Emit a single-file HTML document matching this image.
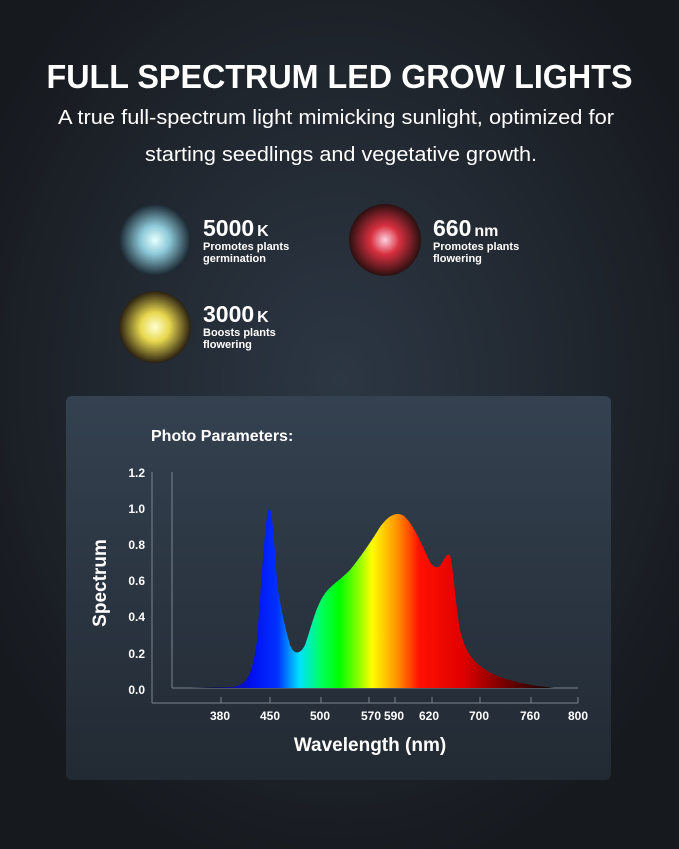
<!DOCTYPE html>
<html><head><meta charset="utf-8"><style>
html,body{margin:0;padding:0;background:#1b1f25;}
svg{display:block;font-family:"Liberation Sans",sans-serif;}
</style></head><body>
<svg width="679" height="849" viewBox="0 0 679 849" xmlns="http://www.w3.org/2000/svg">
<defs>
<radialGradient id="bg" cx="0.5" cy="0.45" r="0.6">
<stop offset="0" stop-color="#2c3744"/><stop offset="0.6" stop-color="#20262e"/><stop offset="1" stop-color="#16191e"/>
</radialGradient>
<linearGradient id="panel" x1="0" y1="0" x2="0" y2="1">
<stop offset="0" stop-color="#344150"/><stop offset="1" stop-color="#222a33"/>
</linearGradient>
<linearGradient id="spec" gradientUnits="userSpaceOnUse" x1="190" y1="0" x2="554" y2="0">
<stop offset="0" stop-color="#000010"/>
<stop offset="0.12" stop-color="#1010a0"/>
<stop offset="0.17" stop-color="#0010f0"/>
<stop offset="0.24" stop-color="#0030ff"/>
<stop offset="0.3" stop-color="#00e0ff"/>
<stop offset="0.36" stop-color="#00ff60"/>
<stop offset="0.41" stop-color="#00ff00"/>
<stop offset="0.47" stop-color="#a0ff00"/>
<stop offset="0.5" stop-color="#ffff00"/>
<stop offset="0.57" stop-color="#ff9000"/>
<stop offset="0.63" stop-color="#ff1000"/>
<stop offset="0.75" stop-color="#e00000"/>
<stop offset="0.87" stop-color="#700000"/>
<stop offset="1" stop-color="#100000"/>
</linearGradient>
<radialGradient id="c1"><stop offset="0" stop-color="#e8ffff"/><stop offset="0.4" stop-color="#8cc8d8"/><stop offset="1" stop-color="#1a2630"/></radialGradient>
<radialGradient id="c2"><stop offset="0" stop-color="#ffd0e0"/><stop offset="0.4" stop-color="#d83040"/><stop offset="1" stop-color="#2a1010"/></radialGradient>
<radialGradient id="c3"><stop offset="0" stop-color="#ffffd0"/><stop offset="0.4" stop-color="#e8d850"/><stop offset="1" stop-color="#2a2010"/></radialGradient>
</defs>
<rect width="679" height="849" fill="url(#bg)"/>
<text x="339.5" y="88" text-anchor="middle" font-size="33" font-weight="bold" fill="#fff" textLength="586" lengthAdjust="spacingAndGlyphs">FULL SPECTRUM LED GROW LIGHTS</text>
<text x="336" y="124" text-anchor="middle" font-size="20" fill="#fff" textLength="556" lengthAdjust="spacingAndGlyphs">A true full-spectrum light mimicking sunlight, optimized for</text>
<text x="341" y="161" text-anchor="middle" font-size="20" fill="#fff" textLength="392" lengthAdjust="spacingAndGlyphs">starting seedlings and vegetative growth.</text>

<circle cx="155" cy="240" r="36" fill="url(#c1)"/>
<circle cx="385" cy="240" r="36" fill="url(#c2)"/>
<circle cx="155" cy="327" r="36" fill="url(#c3)"/>
<g fill="#fff" font-weight="bold">
<text x="203" y="236" font-size="23">5000<tspan font-size="16" dx="3">K</tspan></text>
<text x="203" y="250" font-size="11">Promotes plants</text>
<text x="203" y="262" font-size="11">germination</text>
<text x="433" y="236" font-size="23">660<tspan font-size="16" dx="3">nm</tspan></text>
<text x="433" y="250" font-size="11">Promotes plants</text>
<text x="433" y="262" font-size="11">flowering</text>
<text x="203" y="322" font-size="23">3000<tspan font-size="16" dx="3">K</tspan></text>
<text x="203" y="336" font-size="11">Boosts plants</text>
<text x="203" y="348" font-size="11">flowering</text>
</g>

<rect x="66" y="396" width="545" height="384" rx="6" fill="url(#panel)"/>
<text x="151" y="441" font-size="16" font-weight="bold" fill="#fff">Photo Parameters:</text>

<g stroke="#7a8590" stroke-width="1" fill="none">
<line x1="152" y1="472" x2="152" y2="703"/>
<line x1="152" y1="703" x2="578" y2="703"/>
<line x1="172" y1="472" x2="172" y2="688"/>
<line x1="172" y1="688" x2="578" y2="688"/>
<line x1="221" y1="697" x2="221" y2="703"/><line x1="270" y1="697" x2="270" y2="703"/>
<line x1="321" y1="697" x2="321" y2="703"/><line x1="369" y1="697" x2="369" y2="703"/>
<line x1="395" y1="697" x2="395" y2="703"/><line x1="432" y1="697" x2="432" y2="703"/>
<line x1="480" y1="697" x2="480" y2="703"/><line x1="531" y1="697" x2="531" y2="703"/>
<line x1="578" y1="697" x2="578" y2="703"/>
</g>
<g fill="#fff" font-size="12" font-weight="bold" text-anchor="end">
<text x="145" y="477">1.2</text><text x="145" y="513">1.0</text><text x="145" y="549">0.8</text>
<text x="145" y="585">0.6</text><text x="145" y="621">0.4</text><text x="145" y="658">0.2</text>
<text x="145" y="694">0.0</text>
</g>
<g fill="#fff" font-size="12" font-weight="bold" text-anchor="middle">
<text x="220" y="720">380</text><text x="270" y="720">450</text><text x="320" y="720">500</text>
<text x="371" y="720">570</text><text x="394" y="720">590</text><text x="429" y="720">620</text>
<text x="479" y="720">700</text><text x="530" y="720">760</text><text x="578" y="720">800</text>
</g>
<text x="370" y="751" text-anchor="middle" font-size="19" fill="#fff" font-weight="bold">Wavelength (nm)</text>
<text transform="translate(106,583) rotate(-90)" text-anchor="middle" font-size="19" font-weight="bold" fill="#fff">Spectrum</text>

<path fill="url(#spec)" d="M190,688 L230,687 C245,686 252,680 257,640 C261,590 265,515 269,508 C273,508 275,560 278,590 C282,615 286,630 290,645 C294,655 300,655 305,645 C312,625 316,605 326,592 C334,583 340,580 350,570 C362,555 372,540 380,527 C390,513 398,512 404,516 C414,525 422,545 430,562 C434,568 437,568 440,566 C444,560 447,552 450,555 C453,565 455,600 460,630 C466,655 475,665 495,675 C515,683 535,686 554,688 Z"/>
</svg>
</body></html>
